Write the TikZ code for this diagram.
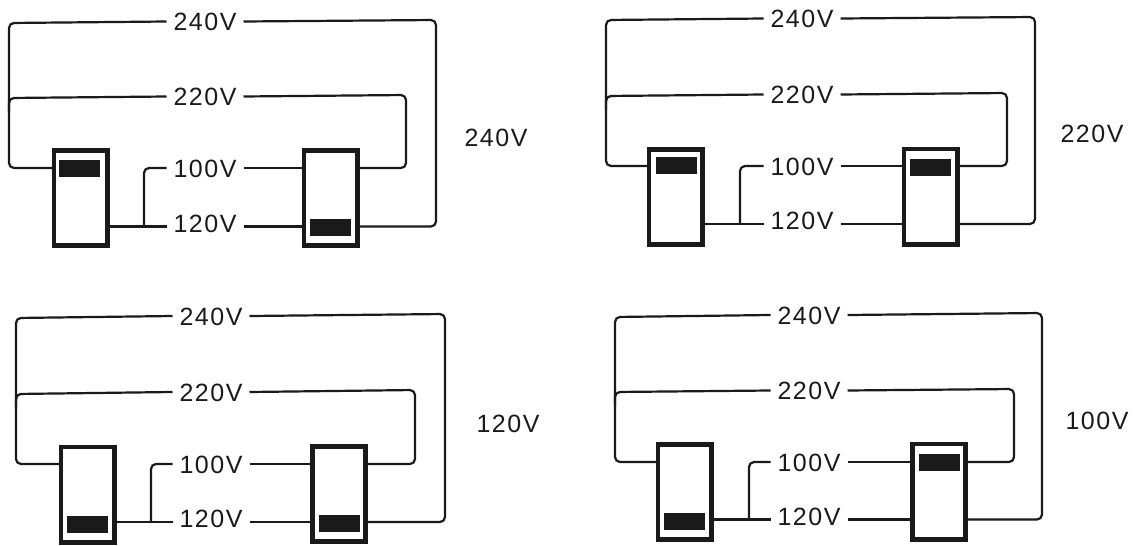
\documentclass[tikz,border=0pt]{standalone}
\usepackage{fontspec}
\setmainfont[LetterSpace=6]{Liberation Sans}
\definecolor{ink}{HTML}{1A1A1A}
\tikzset{
  wire/.style={draw=ink,line width=2.2pt,rounded corners=5pt,line join=round},
  volt/.style={inner sep=0pt,outer sep=0pt,text=ink,font=\fontsize{25}{27}\selectfont,text height=18pt,text depth=0pt},
  wirelabel/.style={volt,minimum width=77pt},
  lowlabel/.style={wirelabel,text depth=7pt},
  switchbody/.style={draw=ink,line width=4.6pt,fill=white,minimum width=53.4pt,minimum height=95.4pt,inner sep=0pt,outer sep=0pt},
  knob/.style={fill=ink,minimum width=41pt,minimum height=17pt,inner sep=0pt,outer sep=0pt}
}
\begin{document}
\begin{tikzpicture}[x=1pt,y=-1pt]
\useasboundingbox (0,0) rectangle (1133,546);
\foreach \vp/\vxL/\vyTL/\vyTR/\vxO/\vyML/\vyMR/\vxI/\vsx/\vsy/\vrx/\vry/\vyA/\vyB/\vxJ/\vxc/\vkx/\vky/\vqx/\vqy/\vtext/\vtx/\vty in {
  a/9/23/20/436/98/95/406/80.5/198/330.5/198/168/226.5/144/205/79.5/168.5/330/227/240V/496/137,
  b/606/20/17/1035/96/93/1007/675.5/197/930.5/196.5/166/224/740/802/676/165/930.5/167/220V/1092/133,
  c/16/318/314/445/394/390/415/87.5/494.5/339/494/464/522/151/211/87/524/339.5/523/120V/508/423,
  d/615/317/313/1042/392/389/1014/684.5/492/939/491.5/462/519.5/749/809/684/521/939/462/100V/1097/420%
}{
  % voltage labels
  \node[wirelabel] (\vp T) at (\vxc,{(\vyTL+\vyTR)/2}) {240V};
  \node[wirelabel] (\vp M) at (\vxc,{(\vyML+\vyMR)/2}) {220V};
  \node[wirelabel] (\vp A) at (\vxc,\vyA) {100V};
  \node[lowlabel]  (\vp B) at (\vxc,\vyB) {120V};
  \node[volt] (\vp R) at (\vtx,\vty) {\vtext};
  % switches and their contacts
  \node[switchbody] (\vp SL) at (\vsx,\vsy) {};
  \node[switchbody] (\vp SR) at (\vrx,\vry) {};
  \node[knob] (\vp KL) at (\vkx,\vky) {};
  \node[knob] (\vp KR) at (\vqx,\vqy) {};
  % corner coordinates
  \coordinate (\vp TL) at (\vxL,\vyTL);
  \coordinate (\vp TR) at (\vxO,\vyTR);
  \coordinate (\vp ML) at (\vxL,\vyML);
  \coordinate (\vp MJ) at (\vxL,\vyML+14);
  \coordinate (\vp MR) at (\vxI,\vyMR);
  \coordinate (\vp LL) at (\vxL,\vyA);
  \coordinate (\vp IL) at (\vxI,\vyA);
  \coordinate (\vp OL) at (\vxO,\vyB);
  \coordinate (\vp JA) at (\vxJ,\vyA);
  \coordinate (\vp JB) at (\vxJ,\vyB);
  % wiring
  \draw[wire] (\vp T.west) -- (\vp TL) -- (\vp LL) -- (\vp SL.west |- \vp LL);
  \draw[wire] (\vp M.west) -- (\vp ML) -- (\vp MJ);
  \draw[wire] (\vp T.east) -- (\vp TR) -- (\vp OL) -- (\vp SR.east |- \vp OL);
  \draw[wire] (\vp M.east) -- (\vp MR) -- (\vp IL) -- (\vp SR.east |- \vp IL);
  \draw[wire] (\vp A.west) -- (\vp JA) -- (\vp JB);
  \draw[wire] (\vp SL.east |- \vp JB) -- (\vp B.west);
  \draw[wire] (\vp A.east) -- (\vp SR.west |- \vp A.east);
  \draw[wire] (\vp B.east) -- (\vp SR.west |- \vp B.east);
}
\end{tikzpicture}
\end{document}
